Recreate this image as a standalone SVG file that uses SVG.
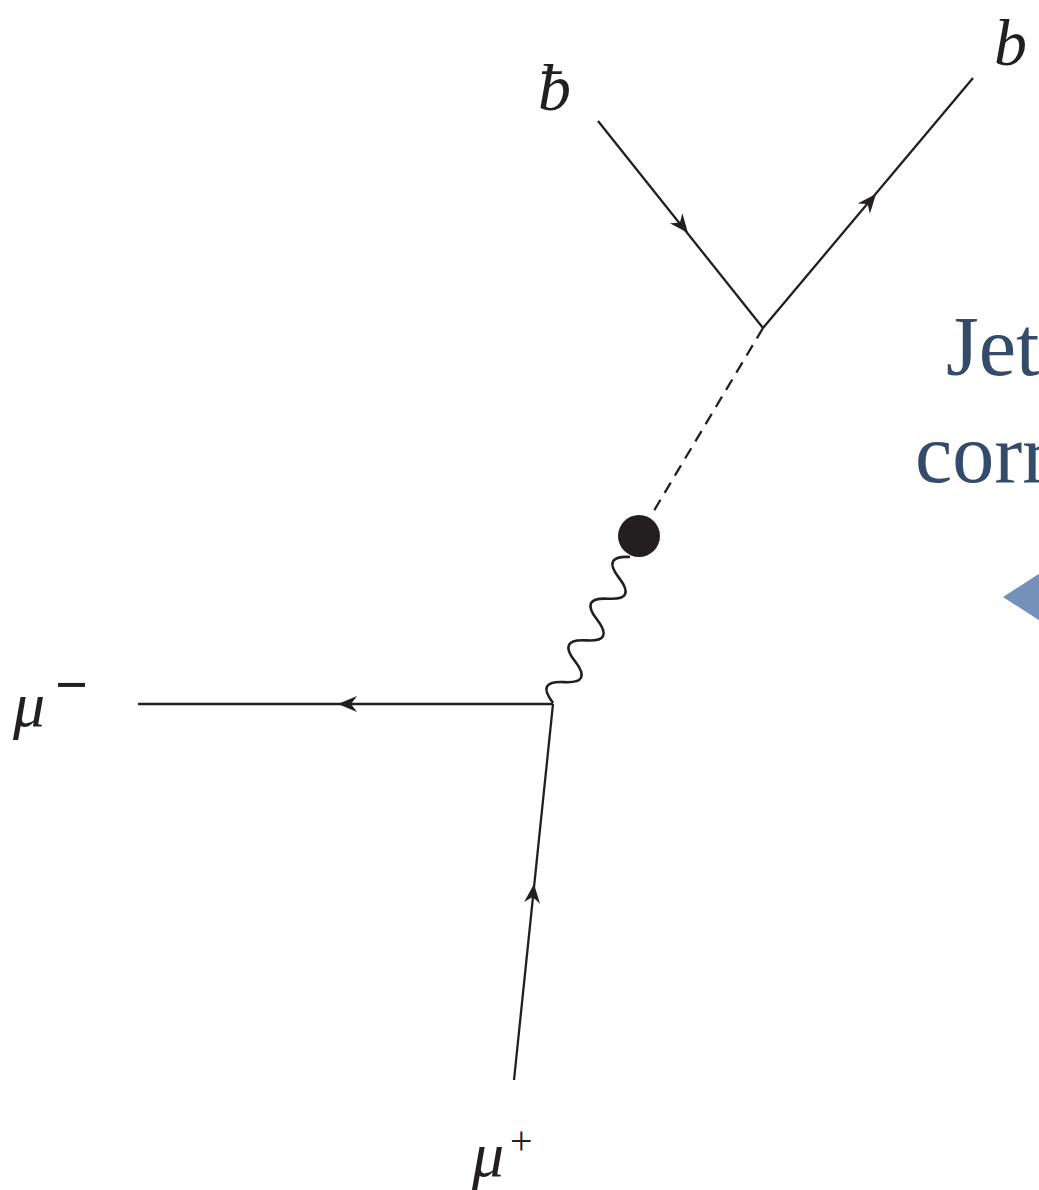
<svg xmlns="http://www.w3.org/2000/svg" xmlns:xlink="http://www.w3.org/1999/xlink" width="1039" height="1190" viewBox="0 0 1039 1190">
  <style>
    .ln { stroke: #231f20; stroke-width: 2.3; fill: none; stroke-linecap: butt; }
    .wave { stroke: #231f20; stroke-width: 2.6; fill: none; }
    .lbl { font-family: "Liberation Serif", "DejaVu Serif", serif; font-style: italic; fill: #231f20; }
    .side { font-family: "Liberation Serif", "DejaVu Serif", serif; fill: #344c69; font-size: 84px; }
  </style>
  <defs>
    <path id="arr" d="M0,0 L-19,-8 L-13,0 L-19,8 Z" fill="#231f20"/>
  </defs>
  <rect width="1039" height="1190" fill="#ffffff"/>

  <g id="connectors">
    <line class="ln" x1="598" y1="121" x2="763" y2="328"/>
    <line class="ln" x1="763" y1="328" x2="973" y2="78"/>
    <line class="ln" x1="763" y1="328" x2="652" y2="514" stroke-dasharray="12 8"/>
    <path class="wave" transform="translate(630,557) rotate(117.8)" d="M0,0 Q11.79,26 23.57,0 T47.14,0 T70.71,0 T94.29,0 T117.86,0 T141.43,0 T165,0"/>
    <line class="ln" x1="553" y1="704" x2="138" y2="704"/>
    <line class="ln" x1="514" y1="1080" x2="553" y2="704"/>
    <use xlink:href="#arr" transform="translate(688,233) rotate(51.4)"/>
    <use xlink:href="#arr" transform="translate(876,194) rotate(-50)"/>
    <use xlink:href="#arr" transform="translate(338,704) rotate(180)"/>
    <use xlink:href="#arr" transform="translate(534,884) rotate(-84.1)"/>
  </g>

  <g id="blob">
    <circle cx="639" cy="536" r="21" fill="#231f20"/>
  </g>

  <g id="label-bbar">
    <text class="lbl" x="538" y="110" font-size="66">ƀ</text>
  </g>
  <g id="label-b">
    <text class="lbl" x="994" y="65" font-size="66">b</text>
  </g>
  <g id="label-mu-minus">
    <text class="lbl" x="13" y="726" font-size="64">μ</text>
    <text x="55" y="704" font-family="Liberation Serif, serif" font-weight="bold" font-size="58" fill="#231f20">−</text>
  </g>
  <g id="label-mu-plus">
    <text class="lbl" x="472" y="1176" font-size="64">μ</text>
    <text x="510" y="1154" font-family="Liberation Serif, serif" font-size="40" fill="#231f20">+</text>
  </g>

  <g id="side-text">
    <text class="side" x="946" y="375">Jet</text>
    <text class="side" x="915" y="482">corr</text>
    <polygon points="1003,597 1045,570 1045,624" fill="#7591ba"/>
  </g>
</svg>
